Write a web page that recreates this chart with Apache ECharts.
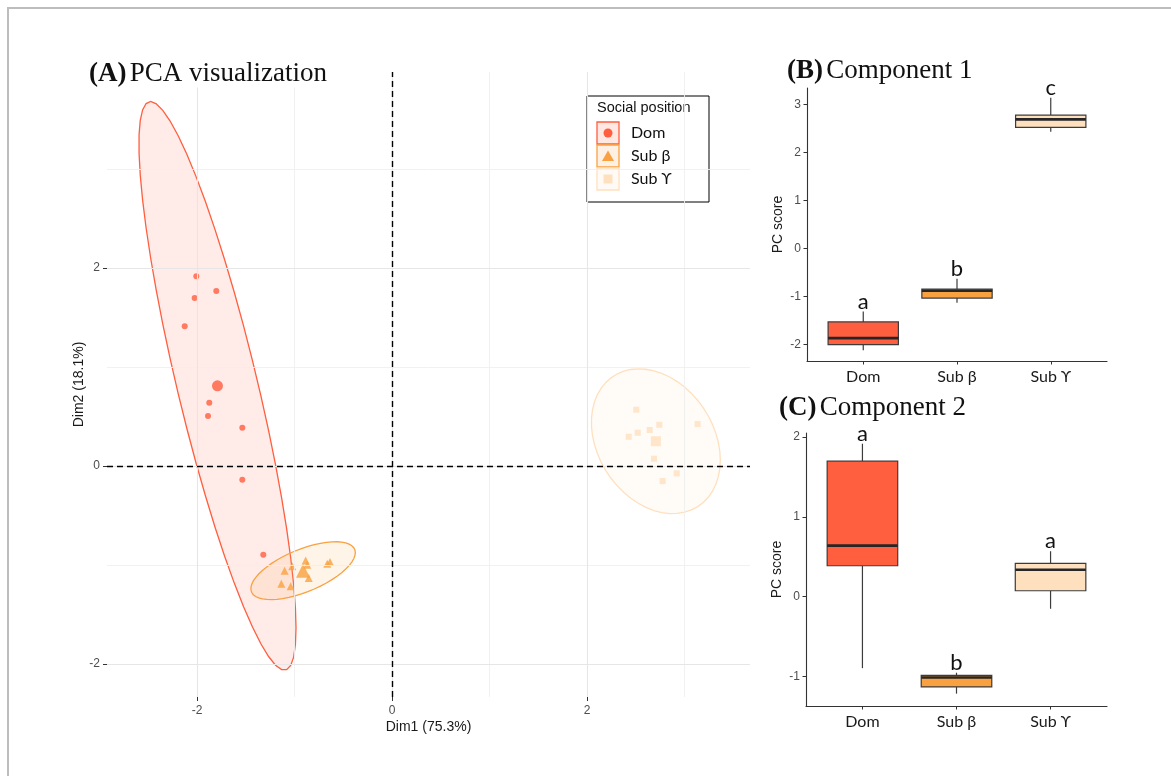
<!DOCTYPE html>
<html>
<head>
<meta charset="utf-8">
<script src="https://cdn.jsdelivr.net/npm/echarts@6/dist/echarts.min.js"></script>
<style>
  html, body { margin: 0; padding: 0; background: #fff; }
  #chart { width: 1171px; height: 776px; }
</style>
</head>
<body>
<div id="chart"></div>
<script>
// Social position groups and their colours
const groups = ['Dom', 'Sub β', 'Sub ϒ'];
const groupColors = ['#FF5E3F', '#F9A140', '#FFE0BE'];

// Individual PCA scores (Dim1, Dim2) per group
const domDim1 = [-2.007, -1.802, -2.024, -2.126, -1.874, -1.887, -1.535, -1.535, -1.320];
const domDim2 = [1.916, 1.768, 1.697, 1.411, 0.639, 0.505, 0.387, -0.138, -0.896];
const subBDim1 = [-1.101, -1.023, -0.885, -0.869, -0.854, -1.135, -1.039, -0.664, -0.636];
const subBDim2 = [-1.058, -1.013, -0.953, -0.997, -1.131, -1.189, -1.215, -0.987, -0.970];
const subGDim1 = [2.506, 2.742, 2.643, 2.520, 2.428, 3.135, 2.687, 2.920, 2.776];
const subGDim2 = [0.569, 0.417, 0.364, 0.336, 0.296, 0.424, 0.074, -0.074, -0.152];

// Compact letter display above each box
const lettersComp1 = ['a', 'b', 'c'];
const lettersComp2 = ['a', 'b', 'a'];

// Tick values
const pcaMajorTicks = [-2, 0, 2];
const pcaMinorTicks = [-1, 1, 3];
const comp1Ticks = [-2, -1, 0, 1, 2, 3];
const comp2Ticks = [-1, 0, 1, 2];
const groupPositions = [1, 2, 3];

// F(0.95; 2, n-1) for n = 9, used for the 95% normal ellipses
const F_CRIT = 4.459;

function mean(a) { return a.reduce((s, v) => s + v, 0) / a.length; }

function quantile(sorted, p) {
  const h = (sorted.length - 1) * p;
  const lo = Math.floor(h), hi = Math.ceil(h);
  return sorted[lo] + (h - lo) * (sorted[hi] - sorted[lo]);
}

// [lower whisker, Q1, median, Q3, upper whisker]
function boxStats(a) {
  const s = [...a].sort((x, y) => x - y);
  const q1 = quantile(s, 0.25), q3 = quantile(s, 0.75), iqr = q3 - q1;
  const inside = s.filter(v => v >= q1 - 1.5 * iqr && v <= q3 + 1.5 * iqr);
  return [inside[0], q1, quantile(s, 0.5), q3, inside[inside.length - 1]];
}

// Multivariate normal confidence ellipse (same construction as stat_ellipse)
function normalEllipse(xs, ys, segments) {
  const n = xs.length, mx = mean(xs), my = mean(ys);
  let sxx = 0, syy = 0, sxy = 0;
  for (let i = 0; i < n; i++) {
    const dx = xs[i] - mx, dy = ys[i] - my;
    sxx += dx * dx; syy += dy * dy; sxy += dx * dy;
  }
  sxx /= n - 1; syy /= n - 1; sxy /= n - 1;
  const a = Math.sqrt(sxx), b = sxy / a, c = Math.sqrt(syy - b * b);
  const r = Math.sqrt(2 * F_CRIT);
  const pts = [];
  for (let k = 0; k <= segments; k++) {
    const t = 2 * Math.PI * k / segments;
    const u = Math.cos(t), v = Math.sin(t);
    pts.push([mx + r * u * a, my + r * (u * b + v * c)]);
  }
  return pts;
}

const dim1 = [domDim1, subBDim1, subGDim1];
const dim2 = [domDim2, subBDim2, subGDim2];
const symbols = ['circle', 'triangle', 'rect'];
const pointSizes = [6, 8, 6];
const centroidSizes = [11, 14, 10];
const fillAlpha = 0.12;

function hexToRgba(hex, a) {
  const n = parseInt(hex.slice(1), 16);
  return 'rgba(' + (n >> 16) + ',' + ((n >> 8) & 255) + ',' + (n & 255) + ',' + a + ')';
}

const tickLabel = { color: '#4D4D4D', fontSize: 12, fontFamily: 'Liberation Sans' };
const axisTitle = { color: '#1A1A1A', fontSize: 14, fontFamily: 'Liberation Sans' };

// --- Panel A series ---
const series = [];

// Background grid
series.push({
  type: 'scatter', xAxisIndex: 0, yAxisIndex: 0, data: [[0, 0]], symbolSize: 0, silent: true, z: 0,
  markLine: {
    silent: true, symbol: ['none', 'none'], label: { show: false },
    data: [
      ...pcaMinorTicks.map(v => ({ xAxis: v, lineStyle: { color: '#EFEFEF', width: 0.9, type: 'solid' } })),
      ...pcaMinorTicks.map(v => ({ yAxis: v, lineStyle: { color: '#EFEFEF', width: 0.9, type: 'solid' } })),
      ...pcaMajorTicks.map(v => ({ xAxis: v, lineStyle: { color: '#E6E6E6', width: 1.1, type: 'solid' } })),
      ...pcaMajorTicks.map(v => ({ yAxis: v, lineStyle: { color: '#E6E6E6', width: 1.1, type: 'solid' } }))
    ]
  }
});

// Ellipses
groups.forEach((g, gi) => {
  const ell = normalEllipse(dim1[gi], dim2[gi], 51);
  series.push({
    type: 'custom', xAxisIndex: 0, yAxisIndex: 0, z: 1, silent: true,
    data: [[mean(dim1[gi]), mean(dim2[gi])]],
    renderItem: (params, api) => ({
      type: 'polygon',
      shape: { points: ell.map(p => api.coord(p)) },
      style: { fill: hexToRgba(groupColors[gi], fillAlpha), stroke: groupColors[gi], lineWidth: 1.3 }
    })
  });
});

// Zero reference lines
series.push({
  type: 'scatter', xAxisIndex: 0, yAxisIndex: 0, data: [[0, 0]], symbolSize: 0, silent: true, z: 2,
  markLine: {
    silent: true, symbol: ['none', 'none'], label: { show: false },
    lineStyle: { color: '#000', width: 1.4, type: [6, 4] },
    data: [{ xAxis: 0 }, { yAxis: 0 }]
  }
});

// Individual points and group centroids
groups.forEach((g, gi) => {
  series.push({
    name: g, type: 'scatter', xAxisIndex: 0, yAxisIndex: 0, z: 3,
    symbol: symbols[gi], symbolSize: pointSizes[gi],
    itemStyle: { color: groupColors[gi] },
    data: dim1[gi].map((x, i) => [x, dim2[gi][i]])
  });
  series.push({
    type: 'scatter', xAxisIndex: 0, yAxisIndex: 0, z: 3,
    symbol: symbols[gi], symbolSize: centroidSizes[gi],
    itemStyle: { color: groupColors[gi] },
    data: [[mean(dim1[gi]), mean(dim2[gi])]]
  });
});

// --- Panels B and C: box plots ---
function boxSeries(axisIdx, dims, letters) {
  return {
    type: 'custom', xAxisIndex: axisIdx, yAxisIndex: axisIdx, z: 3, silent: true,
    data: groupPositions.map((p, gi) => [p, ...boxStats(dims[gi])]),
    renderItem: (params, api) => {
      const x = api.value(0);
      const pLo = api.coord([x, api.value(1)]);
      const pQ1 = api.coord([x, api.value(2)]);
      const pMd = api.coord([x, api.value(3)]);
      const pQ3 = api.coord([x, api.value(4)]);
      const pHi = api.coord([x, api.value(5)]);
      const half = api.size([0.75, 0])[0] / 2;
      const gi = params.dataIndex;
      const edge = { stroke: '#3C3C3C', lineWidth: 1.2 };
      return {
        type: 'group',
        children: [
          { type: 'line', shape: { x1: pLo[0], y1: pLo[1], x2: pQ1[0], y2: pQ1[1] }, style: edge },
          { type: 'line', shape: { x1: pQ3[0], y1: pQ3[1], x2: pHi[0], y2: pHi[1] }, style: edge },
          { type: 'rect', shape: { x: pQ3[0] - half, y: pQ3[1], width: 2 * half, height: pQ1[1] - pQ3[1] },
            style: { fill: groupColors[gi], stroke: '#3C3C3C', lineWidth: 1.2 } },
          { type: 'line', shape: { x1: pMd[0] - half, y1: pMd[1], x2: pMd[0] + half, y2: pMd[1] },
            style: { stroke: '#262626', lineWidth: 2.6 } },
          { type: 'text', x: pHi[0], y: pHi[1] + 1,
            style: { text: letters[gi], fontSize: 22, fontFamily: 'Lato', fill: '#111',
                     align: 'center', verticalAlign: 'bottom' } }
        ]
      };
    }
  };
}
series.push(boxSeries(1, dim1, lettersComp1));
series.push(boxSeries(2, dim2, lettersComp2));

// Axes
const classicLine = { show: true, onZero: false, lineStyle: { color: '#333', width: 1.1 } };
const classicTick = (vals) => ({ show: true, customValues: vals, length: 3.5, lineStyle: { color: '#333', width: 1 } });
const groupAxis = (gridIndex) => ({
  type: 'value', gridIndex, min: 0.4, max: 3.6,
  axisLine: classicLine, axisTick: classicTick(groupPositions),
  axisLabel: { customValues: groupPositions, formatter: v => groups[Math.round(v) - 1],
               color: '#1A1A1A', fontSize: 16, fontFamily: 'Lato', margin: 8 },
  splitLine: { show: false }
});
const scoreAxis = (gridIndex, min, max, ticks) => ({
  type: 'value', gridIndex, min, max,
  name: 'PC score', nameLocation: 'middle', nameGap: 22, nameRotate: 90, nameTextStyle: axisTitle,
  nameMoveOverlap: false,
  axisLine: classicLine, axisTick: classicTick(ticks),
  axisLabel: Object.assign({ customValues: ticks, margin: 6 }, tickLabel),
  splitLine: { show: false }
});

// Legend drawn as a boxed key
const legendTop = 96, legendLeft = 587;
const keyGraphics = [];
groups.forEach((g, gi) => {
  const y = 122 + gi * 23;
  keyGraphics.push({ type: 'rect', shape: { x: 597, y: y, width: 22, height: 22 },
    style: { fill: hexToRgba(groupColors[gi], 0.15), stroke: groupColors[gi], lineWidth: 1.3 } });
  const cx = 608, cy = y + 11;
  if (gi === 0) keyGraphics.push({ type: 'circle', shape: { cx, cy, r: 4.5 }, style: { fill: groupColors[gi] } });
  if (gi === 1) keyGraphics.push({ type: 'polygon', shape: { points: [[cx, cy - 5.5], [cx + 6, cy + 5], [cx - 6, cy + 5]] }, style: { fill: groupColors[gi] } });
  if (gi === 2) keyGraphics.push({ type: 'rect', shape: { x: cx - 4.5, y: cy - 4.5, width: 9, height: 9 }, style: { fill: groupColors[gi] } });
  keyGraphics.push({ type: 'text', x: 631, y: cy,
    style: { text: g, fontSize: 16, fontFamily: 'Lato', fill: '#111', verticalAlign: 'middle' } });
});

const panelTitle = (x, y, tag, text) => ({
  type: 'text', x, y, z: 100,
  style: { text: '{b|' + tag + '} {n|' + text + '}', verticalAlign: 'middle', fill: '#111',
    backgroundColor: '#fff',
    rich: { b: { fontWeight: 'bold', fontSize: 27, fontFamily: 'Liberation Serif' },
            n: { fontSize: 27, fontFamily: 'Liberation Serif' } } }
});

const option = {
  animation: false,
  grid: [
    { left: 107, top: 72, width: 643, height: 625 },
    { left: 807, top: 88, width: 300, height: 273 },
    { left: 806, top: 433, width: 301, height: 273 }
  ],
  xAxis: [
    { type: 'value', gridIndex: 0, min: -2.923, max: 3.672,
      name: 'Dim1 (75.3%)', nameLocation: 'middle', nameGap: 23, nameTextStyle: axisTitle,
      nameMoveOverlap: false,
      axisLine: { show: false, onZero: false },
      axisTick: { show: true, customValues: pcaMajorTicks, length: 4, lineStyle: { color: '#333' } },
      axisLabel: Object.assign({ customValues: pcaMajorTicks, margin: 8 }, tickLabel),
      splitLine: { show: false } },
    groupAxis(1),
    groupAxis(2)
  ],
  yAxis: [
    { type: 'value', gridIndex: 0, min: -2.333, max: 3.98,
      name: 'Dim2 (18.1%)', nameLocation: 'middle', nameGap: 21, nameRotate: 90, nameTextStyle: axisTitle,
      nameMoveOverlap: false,
      axisLine: { show: false, onZero: false },
      axisTick: { show: true, customValues: pcaMajorTicks, length: 4, lineStyle: { color: '#333' } },
      axisLabel: Object.assign({ customValues: pcaMajorTicks, margin: 7 }, tickLabel),
      splitLine: { show: false } },
    scoreAxis(1, -2.35, 3.34, comp1Ticks),
    scoreAxis(2, -1.37, 2.05, comp2Ticks)
  ],
  series,
  graphic: [
    { type: 'rect', shape: { x: 8, y: 8, width: 1200, height: 800 },
      style: { fill: 'none', stroke: '#BDBDBD', lineWidth: 2 }, silent: true },
    panelTitle(89, 74, '(A)', 'PCA visualization'),
    panelTitle(787, 71, '(B)', 'Component 1'),
    panelTitle(779, 408, '(C)', 'Component 2'),
    { type: 'rect', shape: { x: legendLeft, y: legendTop, width: 122, height: 106 },
      style: { fill: '#fff', stroke: '#000', lineWidth: 1 } },
    { type: 'text', x: 597, y: 108,
      style: { text: 'Social position', fontSize: 14.5, fontFamily: 'Liberation Sans', fill: '#111', verticalAlign: 'middle' } },
    ...keyGraphics
  ]
};

const chart = echarts.init(document.getElementById('chart'), null, { renderer: 'canvas' });
chart.setOption(option);
</script>
</body>
</html>
